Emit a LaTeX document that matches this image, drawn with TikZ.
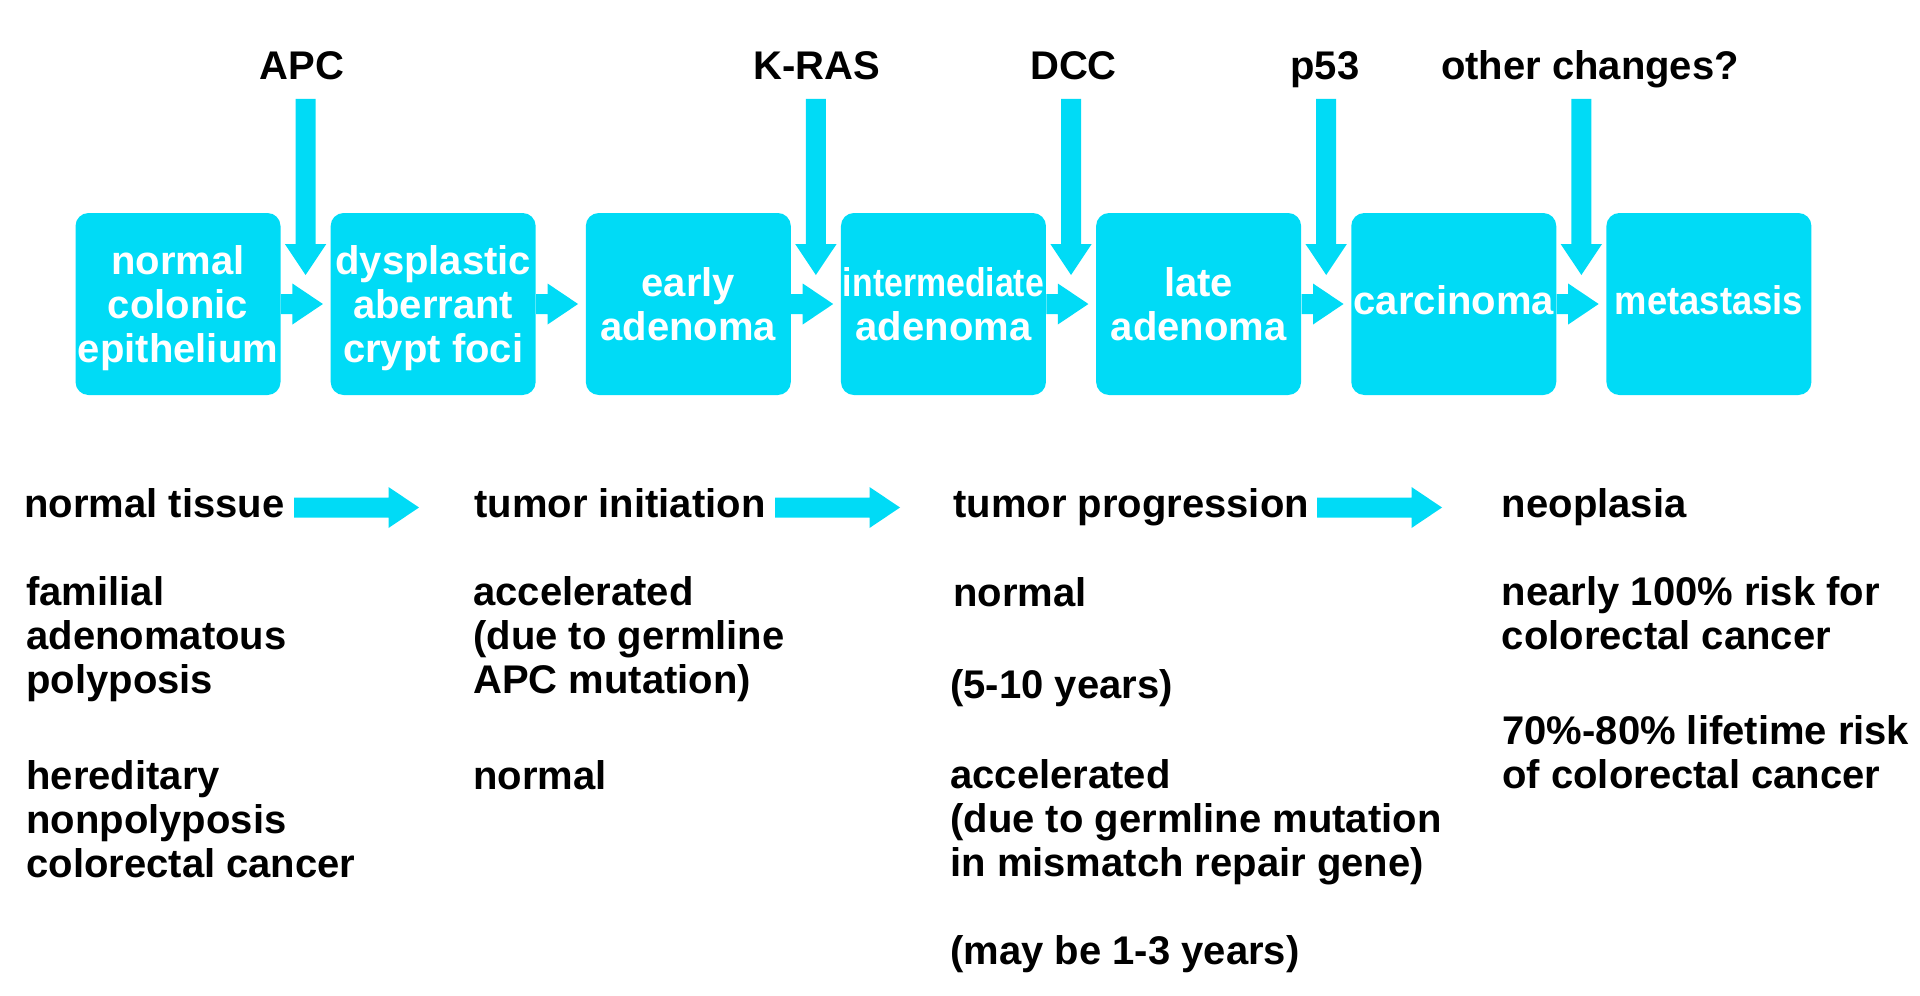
\documentclass[tikz,border=0pt]{standalone}
\usepackage{fontspec}
\usepackage{graphicx}
\setmainfont{Liberation Sans}
\usetikzlibrary{calc}
\definecolor{cy}{RGB}{0,219,246}
\newcommand{\topgap}{\rule{0pt}{18.6pt}}
\newcommand{\botgap}{\rule[-4pt]{0pt}{4pt}}
\tikzset{
  stage/.style={fill=cy, rounded corners=6.5pt, minimum width=102.5pt, minimum height=91pt,
    inner sep=0pt, text=white, align=center, font=\fontsize{20}{22}\selectfont\bfseries},
  lbl/.style={font=\fontsize{20}{22}\selectfont\bfseries, inner sep=0pt, anchor=base},
  txt/.style={font=\fontsize{20}{22}\selectfont\bfseries, inner sep=0pt, anchor=base west, align=left},
  pics/rarrow/.style={code={\fill[cy] (0,-10) -- (#1-30.5,-10) -- (#1-30.5,-20.5) -- (#1,0)
     -- (#1-30.5,20.5) -- (#1-30.5,10) -- (0,10) -- cycle;}},
  pics/darrow/.style={code={\fill[cy] (-10,0) -- (-10,#1-31) -- (-20.7,#1-31) -- (0,#1)
     -- (20.7,#1-31) -- (10,#1-31) -- (10,0) -- cycle;}},
}
\begin{document}
\begin{tikzpicture}[x=0.5pt,y=-0.5pt]
\useasboundingbox (0,0) rectangle (1920,995);
% stage boxes
\node[stage] (b1) at (178,304) {\topgap normal\\colonic\\epithelium};
\node[stage] (b2) at (433.15,304) {\topgap dysplastic\\aberrant\\crypt foci};
\node[stage] (b3) at (688.3,304) {early\\adenoma};
\node[stage] (b4) at (943.45,304) {\scalebox{0.845}[1]{intermediate}\\adenoma};
\node[stage] (b5) at (1198.6,304) {late\\adenoma};
\node[stage] (b6) at (1453.75,304) {carcinoma\botgap};
\node[stage] (b7) at (1708.9,304) {\scalebox{0.91}[1]{metastasis}\botgap};
% small arrows between boxes
\foreach \s in {b1,b2,b3,b4,b5,b6} \pic at (\s.east) {rarrow=42};
% gap coordinates
\coordinate (g12) at ($(b1.east)!0.5!(b2.west)$);
\coordinate (g34) at ($(b3.east)!0.5!(b4.west)$);
\coordinate (g45) at ($(b4.east)!0.5!(b5.west)$);
\coordinate (g56) at ($(b5.east)!0.5!(b6.west)$);
\coordinate (g67) at ($(b6.east)!0.5!(b7.west)$);
% gene labels
\node[lbl] (apc) at (302,80) {APC};
\node[lbl] (kras) at (816.7,80) {K-RAS};
\node[lbl] (dcc) at (1073.5,80) {DCC};
\node[lbl] (p53) at (1325,80) {p53};
\node[lbl] (oth) at (1590,80) {other changes?};
% vertical arrows
\foreach \g in {g12,g34,g45,g56,g67} \pic at ($(\g)+(0,-205)$) {darrow=176};
% header row
\node[txt] (h1) at (24,517) {normal tissue};
\node[txt] (h2) at (474,517) {tumor initiation};
\node[txt] (h3) at (953,517) {tumor progression};
\node[txt] (h4) at (1501.5,517) {neoplasia};
\coordinate (a1) at (294,507.5);
\coordinate (a2) at (775,507.5);
\coordinate (a3) at (1317,507.5);
\foreach \a in {a1,a2,a3} \pic at (\a) {rarrow=125};
% column 1 (base anchor = last line)
\node[txt] (c1a) at (26,693) {familial\\adenomatous\\polyposis};
\node[txt] (c1b) at (26,877) {hereditary\\nonpolyposis\\colorectal cancer};
% column 2
\node[txt] (c2a) at (473,693) {accelerated\\(due to germline\\APC mutation)};
\node[txt] (c2b) at (473,789) {normal};
% column 3
\node[txt] (c3a) at (953,606) {normal};
\node[txt] (c3b) at (950,698) {(5-10 years)};
\node[txt] (c3c) at (950,876) {accelerated\\(due to germline mutation\\in mismatch repair gene)};
\node[txt] (c3d) at (950,964) {(may be 1-3 years)};
% column 4
\node[txt] (c4a) at (1501.5,649) {nearly 100\% risk for\\colorectal cancer};
\node[txt] (c4b) at (1502,788) {70\%-80\% lifetime risk\\of colorectal cancer};
\end{tikzpicture}
\end{document}
